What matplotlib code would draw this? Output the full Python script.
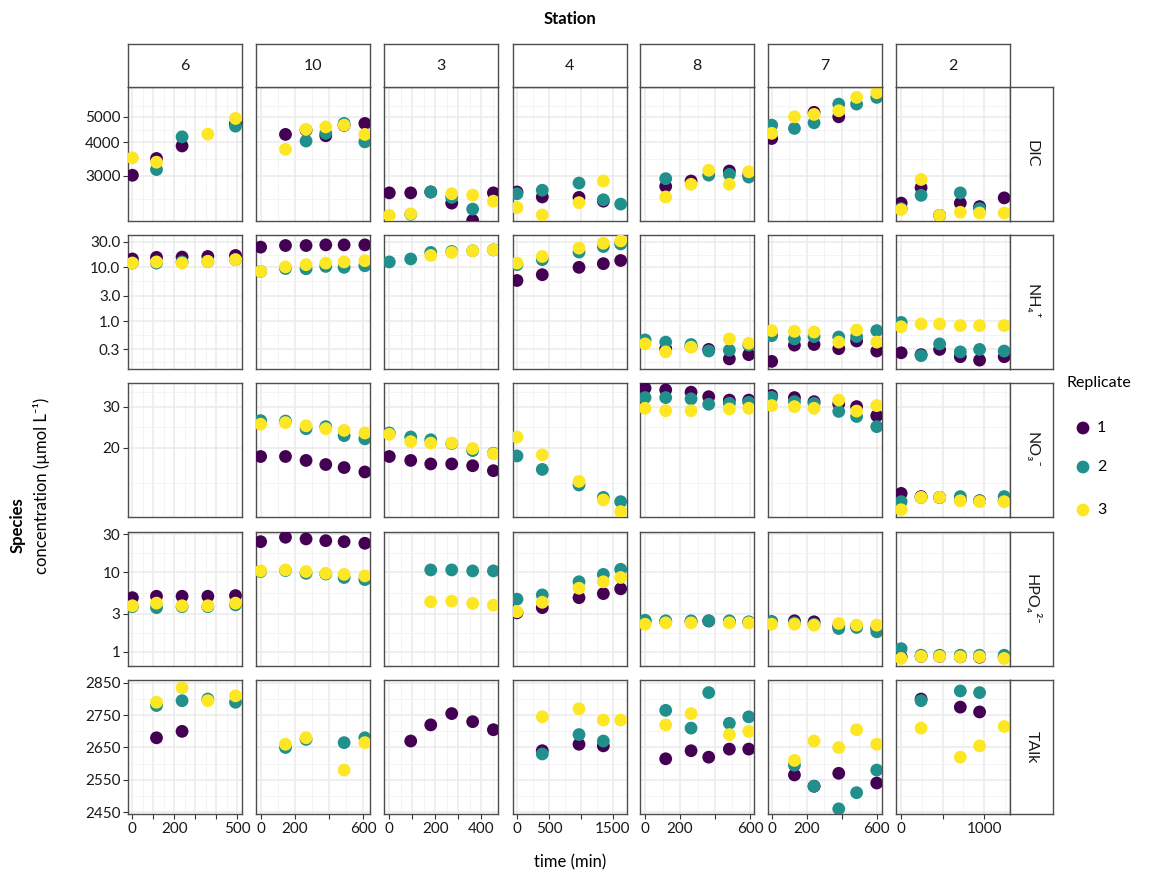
import numpy as np
import matplotlib
matplotlib.use("Agg")
from matplotlib import pyplot as plt
from matplotlib.ticker import FixedLocator, FixedFormatter, NullFormatter

nan = np.nan

stations = ["6", "10", "3", "4", "8", "7", "2"]
species = ["DIC", "NH₄⁺", "NO₃⁻", "HPO₄²⁻", "TAlk"]
replicates = ["1", "2", "3"]
rep_colors = ["#440154", "#21908C", "#FDE725"]

# sampling times (min) per station
times = [
    [0, 115, 237, 360, 492],
    [0, 145, 265, 380, 487, 608],
    [0, 93, 180, 271, 362, 452],
    [0, 395, 969, 1349, 1620],
    [0, 118, 263, 364, 482, 593],
    [0, 130, 242, 383, 485, 600],
    [0, 240, 463, 712, 944, 1240],
]

# DIC, one list per station
dic_1 = [[3007, 3480, 3880, nan, 4720], [nan, 4290, 4450, 4240, 4640, 4720],
         [2580, 2580, 2600, 2360, 2030, 2580], [2600, 2490, 2480, 2400, nan],
         [nan, 2730, 2860, nan, 3120, 3010], [4140, nan, 5200, 5000, nan, nan],
         [2360, 2700, 2120, 2360, 2290, 2470]]
dic_2 = [[nan, 3160, 4200, nan, 4610], [nan, nan, 4050, 4330, 4720, 4020],
         [nan, 2140, 2600, 2480, 2240, nan], [2560, 2640, 2810, 2430, 2340],
         [nan, 2920, nan, 3010, 3030, 2960], [4650, 4520, 4745, 5585, 5585, 5920],
         [2250, 2525, 2120, 2580, 2250, nan]]
dic_3 = [[3500, 3370, nan, 4300, 4930], [nan, 3770, 4480, 4580, 4650, 4290],
         [2120, 2150, nan, 2560, 2530, 2400], [2270, 2130, 2370, 2860, nan],
         [nan, 2490, 2780, 3140, 2780, 3100], [4330, 5000, 5105, 5270, 5920, 6165],
         [2230, 2900, 2120, 2180, 2165, 2165]]

# NH4+
nh4_1 = [[14.3, 15.3, 15.5, 15.9, 16.6], [23.7, 25.4, 25.4, 26.1, 26.1, 26.1],
         [nan] * 6, [5.7, 7.3, 10.0, 11.7, 13.4],
         [nan, 0.31, 0.34, 0.30, 0.20, 0.24], [0.18, 0.36, 0.37, 0.31, 0.43, 0.28],
         [0.26, 0.24, 0.30, 0.22, 0.19, 0.22]]
nh4_2 = [[12.0, 12.0, 12.6, 12.9, 13.9], [8.4, 9.5, 9.4, 10.4, 10.0, 10.7],
         [12.6, 14.3, 18.9, 19.7, 20.3, 21.1], [11.2, 13.9, 19.2, 24.3, 27.2],
         [0.45, 0.41, 0.37, 0.28, 0.29, 0.36], [0.54, 0.47, 0.52, 0.51, 0.52, 0.67],
         [0.95, 0.23, 0.38, 0.27, 0.30, 0.28]]
nh4_3 = [[12.0, 12.6, 12.0, 12.9, 13.9], [8.4, 10.2, 11.2, 12.0, 12.6, 13.3],
         [nan, nan, 16.6, 18.9, 20.3, 21.1], [12.0, 15.9, 22.7, 28.0, 30.9],
         [0.38, 0.27, 0.33, nan, 0.47, 0.39], [0.67, 0.65, 0.63, 0.41, 0.69, 0.41],
         [0.79, 0.89, 0.89, 0.83, 0.83, 0.83]]

# NO3-
no3_1 = [[nan] * 5, [18.3, 18.3, 17.6, 16.9, 16.4, 15.7],
         [18.3, 17.6, 17.0, 17.0, 16.7, 15.9], [nan] * 5,
         [36.0, 35.4, 34.6, 33.1, 32.0, 32.0], [33.5, 32.8, 31.5, 30.8, 30.0, 27.4],
         [12.7, 12.3, 12.2, 11.9, 11.8, 11.8]]
no3_2 = [[nan] * 5, [26.1, 26.0, 24.1, 24.6, 22.5, 21.8],
         [23.1, 22.2, 21.6, 20.8, 19.4, 18.9], [18.4, 16.1, 13.8, 12.2, 11.7],
         [32.8, 32.8, 32.4, 30.7, 31.0, 31.3], [32.9, 31.5, 31.0, 28.6, 27.2, 24.6],
         [11.7, 12.2, 12.2, 12.3, 11.8, 12.3]]
no3_3 = [[nan] * 5, [25.2, 25.6, 24.8, 24.1, 23.7, 23.1],
         [22.8, 21.2, 20.9, 20.9, 19.8, 18.8], [22.2, 18.6, 14.3, 11.9, 10.6],
         [29.5, 28.8, 28.8, nan, 29.3, 29.5], [30.3, 30.0, 29.5, 32.0, 28.7, 30.3],
         [10.8, 12.2, 12.2, 11.8, 11.7, 11.7]]

# HPO4 2-
hpo4_1 = [[4.8, 5.0, 5.0, 5.0, 5.1], [24.2, 27.5, 26.2, 24.9, 24.2, 23.1],
          [nan] * 6, [3.1, 3.6, 4.8, 5.4, 6.2],
          [2.45, 2.4, 2.4, 2.45, 2.4, 2.35], [2.4, 2.46, 2.39, 2.1, 2.1, 2.0],
          [0.87, 0.88, 0.88, 0.87, 0.86, 0.86]]
hpo4_2 = [[3.7, 3.6, 3.7, 3.7, 3.9], [10.2, 10.5, 9.7, 9.5, 8.6, 8.1],
          [nan, nan, 10.7, 10.7, 10.4, 10.4], [4.6, 5.2, 7.6, 9.4, 10.9],
          [2.5, 2.46, 2.46, 2.46, 2.46, 2.39], [2.39, 2.32, 2.23, 1.97, 2.03, 1.79],
          [1.10, 0.91, 0.91, 0.91, 0.91, 0.91]]
hpo4_3 = [[3.8, 4.1, 3.8, 3.8, 4.1], [10.4, 10.7, 10.2, 9.7, 9.4, 9.0],
          [nan, nan, 4.26, 4.35, 4.07, 3.87], [3.2, 4.2, 6.3, 7.6, 8.6],
          [2.23, 2.32, 2.32, nan, 2.32, 2.32], [2.23, 2.23, 2.17, 2.28, 2.17, 2.17],
          [0.83, 0.88, 0.88, 0.87, 0.87, 0.83]]

# TAlk
talk_1 = [[nan, 2680, 2700, nan, nan], [nan] * 6,
          [nan, 2670, 2720, 2755, 2730, 2705], [nan, 2640, 2660, 2655, nan],
          [nan, 2615, 2640, 2620, 2645, 2645], [nan, 2565, 2530, 2570, nan, 2540],
          [nan, 2800, nan, 2775, 2760, nan]]
talk_2 = [[nan, 2780, 2795, 2800, 2790], [nan, 2650, 2675, nan, 2665, 2680],
          [nan] * 6, [nan, 2630, 2690, 2670, nan],
          [nan, 2765, 2710, 2820, 2725, 2745], [nan, 2595, 2530, 2460, 2510, 2580],
          [nan, 2795, nan, 2825, 2820, nan]]
talk_3 = [[nan, 2790, 2835, 2795, 2810], [nan, 2660, 2680, nan, 2580, 2665],
          [nan] * 6, [nan, 2745, 2770, 2735, 2735],
          [nan, 2720, 2755, nan, 2690, 2700], [nan, 2610, 2670, 2650, 2705, 2660],
          [nan, 2710, nan, 2620, 2655, 2715]]

values = [
    [dic_1, dic_2, dic_3],
    [nh4_1, nh4_2, nh4_3],
    [no3_1, no3_2, no3_3],
    [hpo4_1, hpo4_2, hpo4_3],
    [talk_1, talk_2, talk_3],
]

# y scales per species row
y_log = [True, True, True, True, False]
y_lims = [(2020, 6480), (0.13, 39.8), (10.05, 37.9), (0.667, 32), (2444, 2859)]
y_major = [[3000, 4000, 5000], [0.3, 1, 3, 10, 30], [20, 30], [1, 3, 10, 30],
           [2450, 2550, 2650, 2750, 2850]]
y_labels = [["3000", "4000", "5000"], ["0.3", "1.0", "3.0", "10.0", "30.0"],
            ["20", "30"], ["1", "3", "10", "30"],
            ["2450", "2550", "2650", "2750", "2850"]]
y_minor = [[2449, 3464, 4472, 5477], [0.173, 0.548, 1.73, 5.48, 17.3],
           [14.1, 24.5, 34.6], [1.73, 5.48, 17.3], [2500, 2600, 2700, 2800]]

# x scales per station column
x_lims = [(-21, 523), (-27, 638), (-23, 472), (-70, 1711), (-29, 623),
          (-21, 630), (-62, 1310)]
x_major = [[0, 100, 200, 300, 400, 500], [0, 200, 400, 600],
           [0, 100, 200, 300, 400], [0, 500, 1000, 1500], [0, 200, 400, 600],
           [0, 200, 400, 600], [0, 500, 1000]]
x_labels = [["0", "", "200", "", "", "500"], ["0", "200", "", "600"],
            ["0", "", "200", "", "400"], ["0", "500", "", "1500"],
            ["0", "200", "", "600"], ["0", "200", "", "600"], ["0", "", "1000"]]
x_minor = [[50, 150, 250, 350, 450], [100, 300, 500], [50, 150, 250, 350, 450],
           [250, 750, 1250], [100, 300, 500], [100, 300, 500], [250, 750, 1250]]

plt.rcParams["font.family"] = ["Lato", "DejaVu Sans"]

W, H = 1150, 876
fig = plt.figure(figsize=(W / 100, H / 100), dpi=100)


def box(x0, y0, w, h):
    return [x0 / W, 1 - (y0 + h) / H, w / W, h / H]


col_x = [128, 256, 384, 512.5, 640, 768, 896]
row_y = [87, 235, 383, 532, 680]
pw, ph = 114, 134
edge = "#4D4D4D"

for r in range(5):
    for c in range(7):
        ax = fig.add_axes(box(col_x[c], row_y[r], pw, ph))
        if y_log[r]:
            ax.set_yscale("log")
        ax.set_xlim(*x_lims[c])
        ax.set_ylim(*y_lims[r])
        ax.xaxis.set_major_locator(FixedLocator(x_major[c]))
        ax.xaxis.set_minor_locator(FixedLocator(x_minor[c]))
        ax.yaxis.set_major_locator(FixedLocator(y_major[r]))
        ax.yaxis.set_minor_locator(FixedLocator(y_minor[r]))
        ax.xaxis.set_minor_formatter(NullFormatter())
        ax.yaxis.set_minor_formatter(NullFormatter())
        ax.grid(which="major", color="#EBEBEB", lw=1.1)
        ax.grid(which="minor", color="#F2F2F2", lw=0.6)
        ax.set_axisbelow(True)
        for s in ax.spines.values():
            s.set_color(edge)
            s.set_linewidth(1.0)
        ax.tick_params(which="minor", length=0)
        ax.tick_params(which="major", length=3.5, width=0.8, color="#333333",
                       labelsize=11, labelcolor="#1A1A1A", pad=2)
        if r == 4:
            ax.xaxis.set_major_formatter(FixedFormatter(x_labels[c]))
        else:
            ax.tick_params(axis="x", length=0, labelbottom=False)
        if c == 0:
            ax.yaxis.set_major_formatter(FixedFormatter(y_labels[r]))
        else:
            ax.tick_params(axis="y", length=0, labelleft=False)

        for k in range(3):
            ax.scatter(times[c], values[r][k][c], s=85, color=rep_colors[k],
                       edgecolors="none", zorder=3)

        if r == 0:
            sax = fig.add_axes(box(col_x[c], 44, pw, 43))
            sax.set_xticks([])
            sax.set_yticks([])
            sax.set_facecolor("white")
            for s in sax.spines.values():
                s.set_color(edge)
                s.set_linewidth(1.0)
            sax.text(0.5, 0.5, stations[c], ha="center", va="center",
                     fontsize=11.5, color="#1A1A1A", transform=sax.transAxes)
    rax = fig.add_axes(box(1010, row_y[r], 43, ph))
    rax.set_xticks([])
    rax.set_yticks([])
    rax.set_facecolor("white")
    for s in rax.spines.values():
        s.set_color(edge)
        s.set_linewidth(1.0)
    rax.text(0.5, 0.5, species[r], ha="center", va="center", rotation=-90,
             fontsize=11.5, color="#1A1A1A", transform=rax.transAxes)

fig.text(570 / W, 1 - 19 / H, "Station", ha="center", va="center",
         fontsize=12, fontweight="bold")
fig.text(570 / W, 1 - 862 / H, "time (min)", ha="center", va="center",
         fontsize=12)
fig.text(18 / W, 1 - 525 / H, "Species", ha="center", va="center",
         rotation=90, fontsize=12, fontweight="bold")
fig.text(42 / W, 1 - 486 / H, "concentration (µmol L⁻¹)", ha="center",
         va="center", rotation=90, fontsize=12)

# legend
fig.text(1066 / W, 1 - 383 / H, "Replicate", ha="left", va="center",
         fontsize=11.5)
lax = fig.add_axes([0, 0, 1, 1], facecolor="none")
lax.set_xlim(0, W)
lax.set_ylim(H, 0)
lax.axis("off")
for k, ly in enumerate([428, 467, 510]):
    lax.scatter([1083], [ly], s=85, color=rep_colors[k], edgecolors="none")
    lax.text(1097, ly, replicates[k], ha="left", va="center", fontsize=11.5)

fig.savefig("out.png", dpi=100)
